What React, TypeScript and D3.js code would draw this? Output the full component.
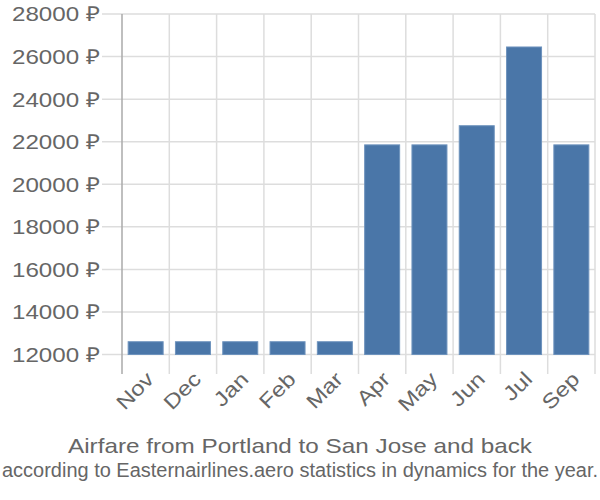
import React from "react";
import * as d3 from "d3";

const months = ["Nov", "Dec", "Jan", "Feb", "Mar", "Apr", "May", "Jun", "Jul", "Sep"];
const prices = [12600, 12600, 12600, 12600, 12600, 21850, 21850, 22750, 26450, 21850];
const yTicks = [12000, 14000, 16000, 18000, 20000, 22000, 24000, 26000, 28000];
const title = "Airfare from Portland to San Jose and back";
const subtitle = "according to Easternairlines.aero statistics in dynamics for the year.";

export default function App() {
  const W = 600, H = 500;
  const left = 122, right = 595, top = 14, bottom = 354.5;
  const x = d3.scaleBand<string>().domain(months).range([left, right]).paddingInner(0.26).paddingOuter(0.13);
  const xb = d3.scaleBand<string>().domain(months).range([left, right]);
  const y = d3.scaleLinear().domain([12000, 28000]).range([bottom, top]);
  const font = "'Liberation Sans', Arial, sans-serif";
  return (
    <svg width={W} height={H} style={{ position: "absolute", left: 0, top: 0 }} fontFamily={font}>
      <rect width={W} height={H} fill="#fff" />
      {yTicks.map((t) => (
        <g key={t}>
          <line x1={102} x2={right} y1={y(t)} y2={y(t)} stroke="#dddddd" strokeWidth={1.5} />
          <text x={100} y={y(t)} dy="0.36em" textAnchor="end" fontSize={20.5} fill="#666" textLength={88} lengthAdjust="spacingAndGlyphs">
            {t} ₽
          </text>
        </g>
      ))}
      {months.map((m, i) => (
        <line key={m} x1={xb(m)! + xb.bandwidth()} x2={xb(m)! + xb.bandwidth()} y1={top} y2={374} stroke="#dddddd" strokeWidth={1.5} />
      ))}
      <line x1={left} x2={left} y1={top} y2={374} stroke="#aaaaaa" strokeWidth={1.5} />
      {months.map((m, i) => (
        <rect key={m} x={x(m)} y={y(prices[i])} width={x.bandwidth()} height={bottom - y(prices[i])} fill="#4a76a8" stroke="#6e93bd" strokeWidth={1} />
      ))}
      {months.map((m) => {
        const cx = xb(m)! + xb.bandwidth() / 2 + 9.4;
        const cy = 380.5;
        return (
          <text key={m} transform={`translate(${cx},${cy}) rotate(-45) scale(1.18,1)`} textAnchor="end" fontSize={20.5} fill="#666">
            {m}
          </text>
        );
      })}
      <text x={300} y={453.3} textAnchor="middle" fontSize={21} fill="#666" textLength={464} lengthAdjust="spacingAndGlyphs">{title}</text>
      <text transform="translate(300,477) scale(1,1.17)" x={0} y={0} textAnchor="middle" fontSize={18} fill="#666" textLength={596} lengthAdjust="spacingAndGlyphs">{subtitle}</text>
    </svg>
  );
}
